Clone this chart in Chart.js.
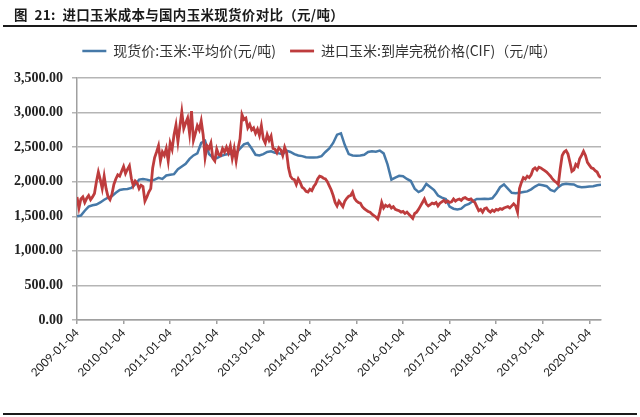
<!DOCTYPE html>
<html>
<head>
<meta charset="utf-8">
<script src="https://cdn.jsdelivr.net/npm/chart.js@4/dist/chart.umd.min.js"></script>
<style>
  html, body { margin: 0; padding: 0; background: #fff; }
  #wrap { position: relative; width: 640px; height: 417px; overflow: hidden; }
  #chart { position: absolute; left: 0; top: 0; }
  .title { position: absolute; left: 14px; top: 4px; font: bold 13.5px "Noto Sans CJK SC", sans-serif; color: #1a1a1a; letter-spacing: 0.3px; white-space: nowrap; }
  .rule { position: absolute; left: 3px; width: 634px; height: 2px; background: #1a1a1a; }
</style>
</head>
<body>
<div id="wrap">
  <canvas id="chart" width="640" height="417"></canvas>
  <div class="title">图&nbsp;&nbsp;21:&nbsp;&nbsp;进口玉米成本与国内玉米现货价对比（元/吨）</div>
  <div class="rule" style="top:25px"></div>
  <div class="rule" style="top:413px"></div>
</div>
<script>
// months counted from 2009-01-04
const tickMonths = [0, 12, 24, 36, 48, 60, 72, 84, 96, 108, 120, 132];
const tickLabels = ['2009-01-04', '2010-01-04', '2011-01-04', '2012-01-04', '2013-01-04', '2014-01-04',
    '2015-01-04', '2016-01-04', '2017-01-04', '2018-01-04', '2019-01-04', '2020-01-04'];

const spotName = '现货价:玉米:平均价(元/吨)';
const importName = '进口玉米:到岸完税价格(CIF)（元/吨）';

// monthly
const spotPrice = [
    1500, 1510, 1580, 1640, 1660, 1670, 1700, 1740, 1770, 1790,
    1840, 1880, 1890, 1895, 1910, 1960, 2030, 2040, 2030, 2015,
    2030, 2055, 2040, 2090, 2100, 2110, 2180, 2220, 2260, 2330,
    2380, 2410, 2560, 2590, 2400, 2350, 2340, 2370, 2390, 2400,
    2400, 2410, 2480, 2540, 2560, 2480, 2390, 2380, 2400, 2430,
    2440, 2420, 2410, 2400, 2450, 2430, 2400, 2380, 2370, 2355,
    2350, 2350, 2355, 2370, 2430, 2480, 2560, 2680, 2700, 2530,
    2400, 2380, 2375, 2380, 2390, 2430, 2440, 2435, 2450, 2410,
    2250, 2030, 2060, 2085, 2080, 2040, 2010, 1900, 1850, 1880,
    1968, 1925, 1880, 1800, 1770, 1750, 1640, 1610, 1600, 1610,
    1660, 1680, 1720, 1750, 1750, 1755, 1750, 1760, 1830, 1920,
    1960, 1900, 1840, 1835, 1840, 1850, 1860, 1890, 1930, 1960,
    1950, 1935, 1880, 1860, 1920, 1960, 1970, 1965, 1960, 1930,
    1920, 1925, 1930, 1935, 1950, 1955
];

// half-monthly
const importCost = [
    1780, 1620, 1750, 1780, 1700, 1760, 1800, 1740, 1780, 1830,
    2000, 2140, 2030, 1900, 2080, 1900, 1780, 1740, 1820, 1960,
    2040, 2100, 2080, 2150, 2220, 2120, 2180, 2230, 2050, 1940,
    2010, 1980, 1900, 1950, 1930, 1720, 1780, 1850, 1900, 2200,
    2350, 2430, 2520, 2300, 2430, 2380, 2480, 2300, 2560, 2470,
    2680, 2820, 2580, 2800, 3010, 2770, 2850, 2920, 2700, 3020,
    2600, 2700, 2810, 2750, 2880, 2680, 2350, 2520, 2480, 2560,
    2340, 2300, 2470, 2390, 2380, 2480, 2430, 2500, 2420, 2520,
    2340, 2480, 2300, 2480, 2620, 2970, 2900, 2920, 2780, 2830,
    2750, 2780, 2700, 2760, 2670, 2810, 2620, 2560, 2680, 2600,
    2660, 2480, 2470, 2420, 2490, 2460, 2380, 2500, 2420, 2200,
    2080, 2040, 2030, 1960, 2040, 1990, 1920, 1900, 1860, 1850,
    1890, 1870, 1930, 1970, 2040, 2080, 2070, 2050, 2040, 2000,
    1940, 1880, 1800, 1700, 1650, 1720, 1680, 1640, 1720, 1760,
    1790, 1800, 1850, 1760, 1720, 1700, 1690, 1640, 1610, 1590,
    1570, 1560, 1530, 1510, 1490, 1460, 1560, 1700, 1620, 1660,
    1640, 1660, 1620, 1640, 1600, 1590, 1580, 1560, 1570, 1540,
    1560, 1530, 1500, 1470, 1540, 1560, 1600, 1650, 1700, 1750,
    1680, 1650, 1670, 1690, 1680, 1700, 1650, 1690, 1710, 1730,
    1700, 1720, 1700, 1710, 1750, 1720, 1740, 1750, 1730, 1760,
    1770, 1750, 1740, 1750, 1720, 1700, 1640, 1580, 1600, 1560,
    1610, 1620, 1580, 1560, 1590, 1570, 1600, 1590, 1610, 1600,
    1620, 1630, 1640, 1620, 1650, 1680, 1650, 1560, 1900, 1990,
    2060, 2040, 2080, 2060, 2100, 2180, 2200, 2170, 2210, 2200,
    2180, 2160, 2140, 2110, 2080, 2040, 2010, 1990, 1960, 2190,
    2380, 2430, 2450, 2400, 2280, 2150, 2170, 2250, 2220, 2330,
    2380, 2440, 2380, 2280, 2240, 2200, 2190, 2160, 2140, 2080,
    2060
];

const fmt = v => v.toLocaleString('en-US', { minimumFractionDigits: 2, maximumFractionDigits: 2 });

// legend box taller, and centred on the canvas
const legendFix = {
    id: 'legendFix',
    beforeInit(chart) {
        const lg = chart.legend;
        const fit = lg.fit;
        lg.fit = function () { fit.call(this); this.height = 48; };
    },
    afterLayout(chart) {
        chart.legend.left += 19;
        chart.legend.right += 19;
    }
};

new Chart(document.getElementById('chart'), {
    type: 'line',
    data: {
        datasets: [{
            label: spotName,
            data: spotPrice.map((v, i) => ({ x: i, y: v })),
            borderColor: '#4679a8',
            backgroundColor: '#4679a8',
            borderWidth: 2.5,
            pointRadius: 0,
            order: 2
        }, {
            label: importName,
            data: importCost.map((v, i) => ({ x: i / 2, y: v })),
            borderColor: '#be3c3d',
            backgroundColor: '#be3c3d',
            borderWidth: 2.8,
            pointRadius: 0,
            order: 1
        }]
    },
    options: {
        responsive: false,
        animation: false,
        devicePixelRatio: 1,
        layout: { padding: { top: 30, left: 0, right: 39, bottom: 0 } },
        plugins: {
            tooltip: { enabled: false },
            legend: {
                position: 'top',
                labels: {
                    usePointStyle: true,
                    pointStyle: 'line',
                    pointStyleWidth: 24,
                    padding: 14,
                    color: '#333',
                    font: { family: '"Noto Sans CJK SC", sans-serif', size: 14 },
                    sort: (a, b) => a.datasetIndex - b.datasetIndex
                }
            }
        },
        scales: {
            x: {
                type: 'linear',
                min: 0,
                max: 135,
                afterBuildTicks: s => { s.ticks = tickMonths.map(v => ({ value: v })); },
                afterFit: s => { s.height = 97; },
                grid: { drawOnChartArea: false, tickLength: 4, color: '#a0a0a0', lineWidth: 1.5 },
                border: { color: '#a0a0a0', width: 1.5 },
                ticks: {
                    autoSkip: false,
                    maxRotation: 45,
                    minRotation: 45,
                    padding: 2,
                    color: '#222',
                    font: { family: 'Lato, sans-serif', size: 11.5 },
                    callback: v => tickLabels[tickMonths.indexOf(v)]
                }
            },
            y: {
                min: 0,
                max: 3500,
                afterFit: s => { s.width = 77; },
                grid: { color: '#b5b5b5', lineWidth: 1.5, tickLength: 5 },
                border: { color: '#a0a0a0', width: 1.5 },
                ticks: {
                    stepSize: 500,
                    padding: 9,
                    color: '#222',
                    font: { family: '"Liberation Serif", serif', size: 14, weight: 'bold' },
                    callback: v => fmt(v)
                }
            }
        }
    },
    plugins: [legendFix]
});
</script>
</body>
</html>
